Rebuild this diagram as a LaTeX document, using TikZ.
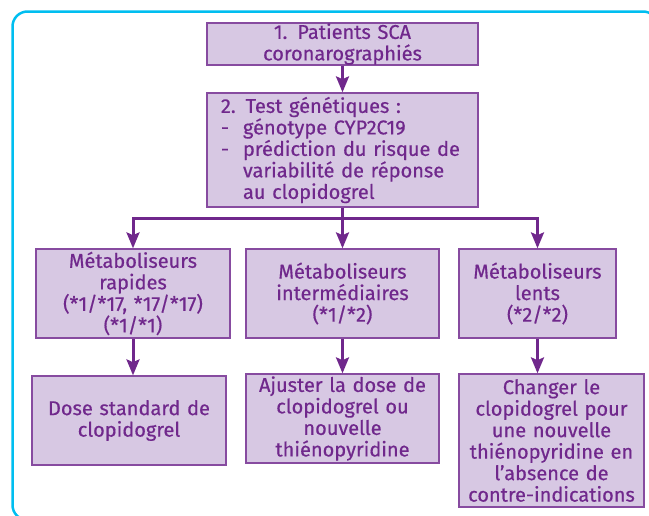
\documentclass[tikz,border=0pt]{standalone}
\usepackage{fontspec}
\setmainfont{Fira Sans}[UprightFeatures={FakeBold=0.5}]
\usetikzlibrary{arrows.meta}
\definecolor{cadre}{RGB}{0,190,240}
\definecolor{lilas}{RGB}{215,200,227}
\definecolor{prune}{RGB}{112,40,140}
\definecolor{bord}{RGB}{135,75,160}
\tikzset{>={Stealth[length=16pt,width=13pt,inset=3pt]}}
\tikzset{
  boite/.style={draw=bord, fill=lilas, text=prune, line width=1.3pt,
    inner xsep=3pt, inner ysep=0pt, align=center,
    font=\fontsize{20}{21.5}\selectfont},
  fleche/.style={->, draw=prune, line width=3pt}
}

\begin{document}
\begin{tikzpicture}[x=1pt,y=-1pt]
    \useasboundingbox (0,0) rectangle (649,515);
    \draw[cadre, line width=2.5pt, rounded corners=15pt] (12.5,11.5) rectangle (658,520);
    \node[boite, text width=265pt, minimum height=42pt](pat) at (342.5,44)
        {1. Patients SCA\\coronarographiés};
    \node[boite, text width=251pt, inner xsep=10pt, minimum height=114pt, align=left](test) at (342.5,150)
        {\hspace*{4pt}2. Test génétiques :\\
         \hspace*{4pt}\makebox[22pt][l]{-}génotype CYP2C19\\
         \hspace*{4pt}\makebox[22pt][l]{-}prédiction du risque de\\
         \hspace*{26pt}variabilité de réponse\\
         \hspace*{26pt}au clopidogrel};
    % metaboliseurs
    \node[boite, text width=188pt, minimum height=89pt](rap) at (133,293.5)
        {Métaboliseurs\\rapides\\(*1/*17, *17/*17)\\(*1/*1)};
    \node[boite, text width=187pt, minimum height=89pt](inter) at (342.5,293.5)
        {Métaboliseurs\\intermédiaires\\(*1/*2)};
    \node[boite, text width=151pt, minimum height=89pt](lent) at (537.5,293.5)
        {Métaboliseurs\\lents\\(*2/*2)};
    % conduites
    \node[boite, text width=188pt, minimum height=89pt](dose) at (129,420.5)
        {Dose standard de\\clopidogrel};
    \node[boite, text width=187pt, minimum height=89pt](ajust) at (342.5,418.5)
        {Ajuster la dose de\\clopidogrel ou\\nouvelle\\thiénopyridine};
    \node[boite, text width=179pt, minimum height=133pt](chang) at (551.5,440.5)
        {Changer le\\clopidogrel pour\\une nouvelle\\thiénopyridine en\\l’absence de\\contre-indications};
    \coordinate (fourche) at (342.5,218);
    \draw[fleche] (pat) -- (test);
    \draw[fleche] (test.south) -- (fourche) -| (rap.north);
    \draw[fleche] (test.south) -- (inter.north);
    \draw[fleche] (fourche) -| (lent.north);
    \draw[fleche] (rap.south) -- (rap.south |- dose.north);
    \draw[fleche] (inter.south) -- (ajust.north);
    \draw[fleche] (lent.south) -- (lent.south |- chang.north);
\end{tikzpicture}
\end{document}
